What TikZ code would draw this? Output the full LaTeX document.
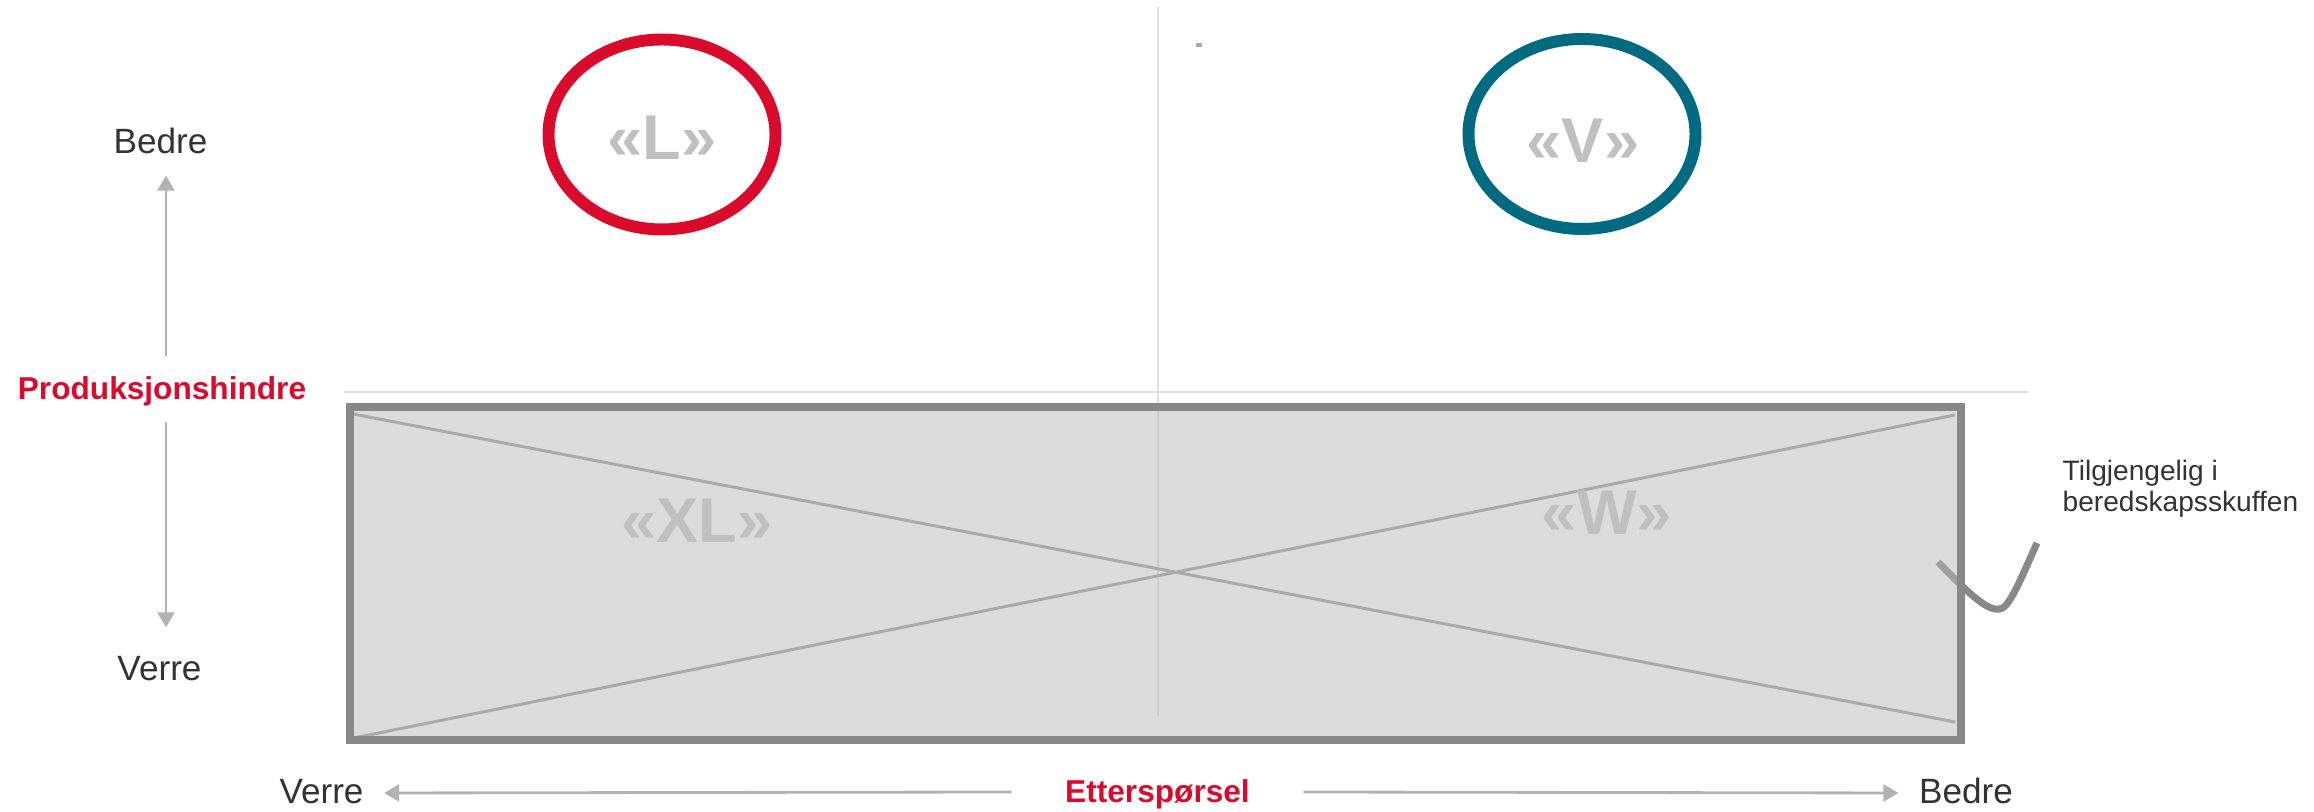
\documentclass[tikz,border=0pt]{standalone}
\usepackage{fontspec}
\setmainfont{Liberation Sans}
\usepackage{tikz}
\usetikzlibrary{shapes.geometric, arrows.meta, positioning}
\definecolor{hindred}{RGB}{218, 10, 44}
\definecolor{tealblue}{RGB}{0, 106, 128}
\definecolor{txtdark}{RGB}{51, 51, 51}
\definecolor{arrowgray}{RGB}{178, 178, 178}
\definecolor{framegray}{RGB}{136, 136, 136}
\definecolor{lettergray}{RGB}{192, 192, 192}
\definecolor{gridgray}{RGB}{224, 224, 224}
\definecolor{crossgray}{RGB}{170, 170, 170}
\definecolor{boxgray}{RGB}{185, 185, 185}

\tikzset{
    axisarrow/.style={arrowgray, line width=0.8pt, -{Triangle[width=0.17cm, length=0.15cm]}},
    axislabel/.style={text=txtdark, font=\fontsize{10}{12}\selectfont, text height=0.28cm, text depth=0.06cm, inner xsep=0.2cm, inner ysep=0.15cm},
    axistitle/.style={axislabel, text=hindred, font=\fontsize{9}{11}\selectfont\bfseries},
    sizelabel/.style={text=lettergray, font=\fontsize{18}{20}\selectfont\bfseries, inner sep=0},
    ring/.style={ellipse, draw, line width=3.4pt, minimum width=2.27cm, minimum height=1.90cm, inner sep=0},
}

\begin{document}
\begin{tikzpicture}
    \useasboundingbox (0,0) rectangle (23.14,8.12);

    % Hjelpelinjer
    \draw[gridgray, line width=0.7pt] (3.44,4.20) -- (20.29,4.20);
    \draw[gridgray, line width=0.7pt] (11.58,8.05) -- (11.58,0.96);
    \fill[crossgray] (11.96,7.645) rectangle (12.015,7.685);

    % Krok (ligger bak boksen)
    \draw[framegray, line width=2pt] (19.38,2.50) .. controls (19.72,2.15) and (19.92,1.96) .. (20.04,2.05)
        .. controls (20.13,2.13) and (20.23,2.38) .. (20.37,2.69);

    % Boks med kryss
    \fill[boxgray, fill opacity=0.5] (3.50,0.72) rectangle (19.61,4.05);
    \draw[crossgray, line width=0.85pt] (3.53,3.98) -- (19.55,0.90) (3.54,0.74) -- (19.55,3.97);
    \draw[framegray, line width=2.3pt] (3.50,0.72) rectangle (19.61,4.05);
    \node[sizelabel] (xlsize) at (6.97,2.91) {«XL»};
    \node[sizelabel] (wsize) at (16.07,2.995) {«W»};

    % Ringer
    \node[ring, draw=hindred] (lring) at (6.62,6.775) {};
    \node[sizelabel] (lsize) at (6.62,6.745) {«L»};
    \node[ring, draw=tealblue] (vring) at (15.82,6.78) {};
    \node[sizelabel] (vsize) at (15.83,6.71) {«V»};

    % Akse: produksjonshindre
    \coordinate (yaxis) at (1.66,0);
    \node[axislabel, anchor=base] (bedreY) at (1.605,6.58) {Bedre};
    \node[axistitle, anchor=base] (prod) at (1.62,4.12) {Produksjonshindre};
    \node[axislabel, anchor=base] (verreY) at (1.595,1.31) {Verre};
    \draw[axisarrow] (prod.north -| yaxis) -- (bedreY.south -| yaxis);
    \draw[axisarrow, shorten >=0.1cm] (prod.south -| yaxis) -- (verreY.north -| yaxis);

    % Akse: etterspørsel
    \node[axislabel, anchor=base] (verreX) at (3.215,0.08) {Verre};
    \node[axistitle, anchor=base, inner xsep=0.53cm] (ettersp) at (11.575,0.09) {Etterspørsel};
    \node[axislabel, anchor=base] (bedreX) at (19.66,0.08) {Bedre};
    \draw[axisarrow] (ettersp.west) -- (verreX.east);
    \draw[axisarrow] (ettersp.east) -- (bedreX.west);

    \node[anchor=base west, align=left, inner sep=0, text=txtdark, font=\fontsize{8}{9.1}\selectfont] (note) at (20.62,3.00) {Tilgjengelig i\\beredskapsskuffen};
\end{tikzpicture}
\end{document}
